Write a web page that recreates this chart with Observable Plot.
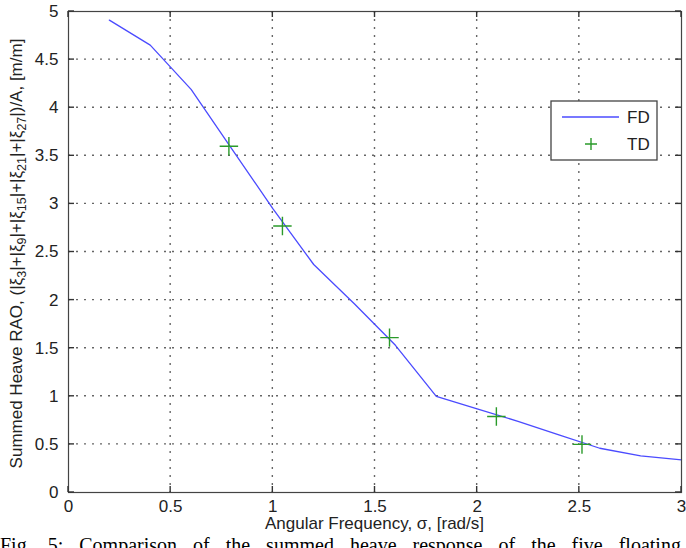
<!DOCTYPE html>
<html>
<head>
<meta charset="utf-8">
<script src="https://cdn.jsdelivr.net/npm/d3@7"></script>
<script src="https://cdn.jsdelivr.net/npm/@observablehq/plot@0.6"></script>
<style>
  html, body { margin: 0; padding: 0; background: #fff; }
  #wrap { width: 686px; height: 548px; overflow: hidden; position: relative; }
  #chart { position: absolute; left: 0; top: 0; }
  #caption { position: absolute; left: 0; top: 535px; font-family: "Liberation Serif", "Times New Roman", serif; font-size: 20px; white-space: nowrap; line-height: 20px; height: 13px; overflow: hidden; word-spacing: 11px; color: #000; }
</style>
</head>
<body>
<div id="wrap">
  <div id="chart"></div>
  <div id="caption">Fig. 5: Comparison of the summed heave response of the five floating</div>
</div>
<script>
// ---- data ----
const fdFreq = [0.2, 0.4, 0.6, 0.8, 1.0, 1.2, 1.4, 1.6, 1.8, 2.0, 2.2, 2.4, 2.6, 2.8, 3.0];
const fdRao  = [4.91, 4.65, 4.19, 3.57, 2.95, 2.37, 1.96, 1.53, 1.0, 0.87, 0.74, 0.60, 0.46, 0.38, 0.34];
const tdFreq = [0.785, 1.047, 1.571, 2.094, 2.513];
const tdRao  = [3.60, 2.77, 1.61, 0.79, 0.50];
const xTicks = [0, 0.5, 1, 1.5, 2, 2.5, 3];
const yTicks = [0, 0.5, 1, 1.5, 2, 2.5, 3, 3.5, 4, 4.5, 5];
const seriesNames = ["FD", "TD"];
const xLabel = "Angular Frequency, σ, [rad/s]";

const fd = fdFreq.map((x, i) => ({x, y: fdRao[i]}));
const td = tdFreq.map((x, i) => ({x, y: tdRao[i]}));

const W = 686, H = 535;
const mL = 68, mR = 5, mT = 11, mB = 43;
const fmt = d => String(d);
const FD_COLOR = "#4b4bff";
const TD_COLOR = "#2a9a2a";

const chart = Plot.plot({
  width: W, height: H,
  marginLeft: mL, marginRight: mR, marginTop: mT, marginBottom: mB,
  style: {fontFamily: "'Liberation Sans', Arial, sans-serif", fontSize: "17px", color: "#222", background: "#fff"},
  x: {domain: [0, 3]},
  y: {domain: [0, 5]},
  marks: [
    Plot.axisX({ticks: xTicks, tickSize: 0, tickPadding: 7, tickFormat: fmt, label: null}),
    Plot.axisY({ticks: yTicks, tickSize: 0, tickPadding: 10, tickFormat: fmt, label: null}),
    Plot.line(fd, {x: "x", y: "y", stroke: FD_COLOR, strokeWidth: 1.3}),
    Plot.dot(td, {x: "x", y: "y", symbol: "plus", r: 6, stroke: TD_COLOR, strokeWidth: 1.4}),
    Plot.frame({stroke: "#444", strokeWidth: 1.2})
  ]
});
document.getElementById("chart").appendChild(chart);

const svg = d3.select(chart);
const font = "'Liberation Sans', Arial, sans-serif";
const xs = chart.scale("x"), ys = chart.scale("y");
const pTop = mT, pBottom = H - mB, pLeft = mL, pRight = W - mR;

// dotted grid + inward ticks (positions from Plot's scales)
const g = svg.insert("g", "g[aria-label='line']");
xTicks.slice(1, -1).forEach(v => {
  const px = xs.apply(v);
  g.append("line").attr("x1", px).attr("x2", px).attr("y1", pTop).attr("y2", pBottom)
    .attr("stroke", "#666").attr("stroke-width", 1.4).attr("stroke-dasharray", "2,6");
});
yTicks.slice(1, -1).forEach(v => {
  const py = ys.apply(v);
  g.append("line").attr("x1", pLeft).attr("x2", pRight).attr("y1", py).attr("y2", py)
    .attr("stroke", "#666").attr("stroke-width", 1.4).attr("stroke-dasharray", "2,6");
});
const tk = svg.append("g");
xTicks.forEach(v => {
  const px = xs.apply(v);
  tk.append("line").attr("x1", px).attr("x2", px).attr("y1", pBottom).attr("y2", pBottom - 6).attr("stroke", "#333").attr("stroke-width", 1.4);
  tk.append("line").attr("x1", px).attr("x2", px).attr("y1", pTop).attr("y2", pTop + 6).attr("stroke", "#333").attr("stroke-width", 1.4);
});
yTicks.forEach(v => {
  const py = ys.apply(v);
  tk.append("line").attr("x1", pLeft).attr("x2", pLeft + 6).attr("y1", py).attr("y2", py).attr("stroke", "#333").attr("stroke-width", 1.4);
  tk.append("line").attr("x1", pRight).attr("x2", pRight - 6).attr("y1", py).attr("y2", py).attr("stroke", "#333").attr("stroke-width", 1.4);
});

// x-axis label
svg.append("text")
  .attr("x", mL + (W - mL - mR) / 2).attr("y", 529)
  .attr("text-anchor", "middle")
  .attr("font-family", font).attr("font-size", 17).attr("fill", "#222")
  .text(xLabel);

// y-axis label with subscripts
const yl = svg.append("text")
  .attr("transform", `translate(22,${mT + (H - mT - mB) / 2 + 2}) rotate(-90)`)
  .attr("text-anchor", "middle")
  .attr("font-family", font).attr("font-size", 17).attr("fill", "#222");
const parts = [
  ["Summed Heave RAO, (|ξ", false], ["3", true], ["|+|ξ", false], ["9", true],
  ["|+|ξ", false], ["15", true], ["|+|ξ", false], ["21", true],
  ["|+|ξ", false], ["27", true], ["|)/A, [m/m]", false]
];
let prevSub = false;
parts.forEach(([t, sub]) => {
  const ts = yl.append("tspan").text(t);
  if (sub) ts.attr("font-size", 12.5);
  if (sub && !prevSub) ts.attr("dy", 4);
  else if (!sub && prevSub) ts.attr("dy", -4);
  prevSub = sub;
});

// legend
const lg = svg.append("g").attr("font-family", font).attr("font-size", 17).attr("fill", "#222").attr("text-anchor", "start");
lg.append("rect").attr("x", 551).attr("y", 101).attr("width", 106).attr("height", 59)
  .attr("fill", "#fff").attr("stroke", "#444").attr("stroke-width", 1.3);
lg.append("line").attr("x1", 562).attr("x2", 619).attr("y1", 117).attr("y2", 117)
  .attr("stroke", FD_COLOR).attr("stroke-width", 1.3);
lg.append("path").attr("d", "M585,144h12M591,138v12").attr("stroke", TD_COLOR).attr("stroke-width", 1.4).attr("fill", "none");
lg.append("text").attr("x", 627).attr("y", 123).text(seriesNames[0]);
lg.append("text").attr("x", 627).attr("y", 150).text(seriesNames[1]);
</script>
</body>
</html>
